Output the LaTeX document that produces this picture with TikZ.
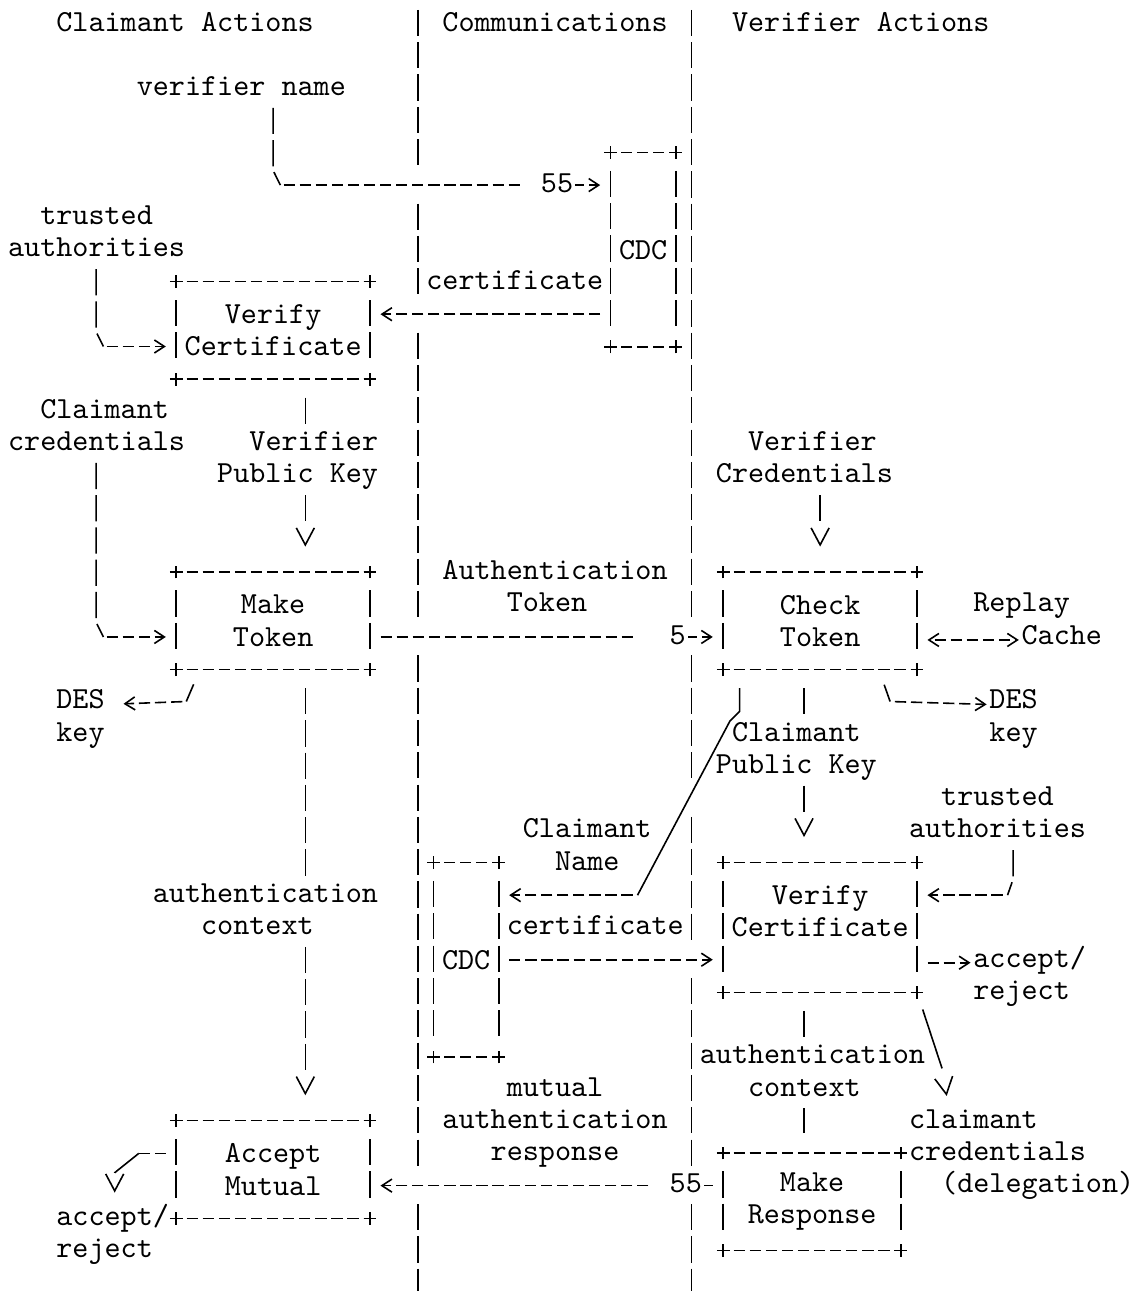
\documentclass[tikz,border=0pt]{standalone}
\usepackage{fontspec}
\newfontfamily\asciifont{lmmono10-regular.otf}
\usetikzlibrary{arrows.meta}

\begin{document}
\begin{tikzpicture}[x=8.045pt,y=16.14pt]
  \tikzset{box node/.style 2 args={rectangle, inner sep=0pt, align=center,
		minimum width=#1*8.045pt, minimum height=#2*16.14pt,
		font=\asciifont\fontsize{15.32pt}{16.14pt}\selectfont}, }
\tikzset{text node/.style={inner sep=0pt, anchor=mid west, yshift=-1.5pt,
		text height=9.4pt, text depth=0pt,
		font=\asciifont\fontsize{15.32pt}{16.14pt}\selectfont}, }
\tikzset{tag node/.style={text node, fill=white, inner xsep=1pt}, }
\tikzset{wire/.style={line width=0.8pt}, }
\tikzset{bar wire/.style={wire, dash pattern=on 13.1pt off 3.04pt}, }
\tikzset{dash wire/.style={wire, dash pattern=on 5.63pt off 2.41pt,
		dash phase=5.63pt, shorten <=2.82pt}, }
\tikzset{gt end/.style={-{Straight Barb[length=5pt,width=6.5pt]}, shorten >=5.2pt}, }
\tikzset{lt gt/.style={{Straight Barb[length=5pt,width=6.5pt]}-{Straight Barb[length=5pt,width=6.5pt]}}, }
\tikzset{v end/.style={-{Straight Barb[length=8.5pt,width=9pt]}}, }
\useasboundingbox (-0.979,0.735) rectangle (70.06,-39.265);
    \node[text node] (hdrC) at (2.5,0) {Claimant Actions};
    \node[text node] (hdrM) at (26.5,0) {Communications};
    \node[text node] (hdrV) at (44.5,0) {Verifier Actions};
%
\foreach \a/\b in {0/4,6/8,10/18,20/35,37/39}
  \draw[bar wire] ([yshift=6.9pt]25,-\a) -- ([yshift=-6.2pt]25,-\b);
\foreach \a/\b in {0/18,20/23,25/28,30/35,37/39}
  \draw[bar wire] ([yshift=6.9pt]42,-\a) -- ([yshift=-6.2pt]42,-\b);
%
    \node[box node={12}{3}] (vc1) at (16,-9.5) {Verify\\Certificate};
    \node[box node={4}{6}] (cdc1) at (39,-7) {CDC};
    \node[box node={12}{3}] (mt) at (16,-18.5) {Make\\Token};
    \node[box node={12}{3}] (ct) at (50,-18.5) {Check\\Token};
    \node[box node={4}{6}] (cdc2) at (28,-29) {CDC};
    \node[box node={12}{4}] (vc2) at (50,-28) {Verify\\Certificate\\~};
    \node[box node={12}{3}] (am) at (16,-35.5) {Accept\\Mutual};
    \node[box node={11}{3}] (mr) at (49.5,-36.5) {Make\\Response};
\foreach \b in {vc1,cdc1,mt,ct,cdc2,vc2,am,mr} {
  \draw[wire, dash pattern=on 5.63pt off 2.41pt, dash phase=2.82pt]
    (\b.north west) -- (\b.north east) (\b.south west) -- (\b.south east);
  \draw[bar wire] ([yshift=-9.24pt]\b.north west) -- ([yshift=9.94pt]\b.south west)
    ([yshift=-9.24pt]\b.north east) -- ([yshift=9.94pt]\b.south east);
  \foreach \c in {north west,north east,south west,south east}
    \draw[wire] (\b.\c) +(-3.2pt,0) -- +(3.2pt,0) +(0,-3.2pt) -- +(0,3.2pt);
}
%
    \node[text node] (vname) at (7.5,-2) {verifier name};
    \node[text node] (trA1) at (1.5,-6) {trusted};
    \node[text node] (trA2) at (-0.5,-7) {authorities};
    \node[text node] (cert1) at (25.5,-8) {certificate};
    \node[text node] (clc1) at (1.5,-12) {Claimant};
    \node[text node] (clc2) at (-0.5,-13) {credentials};
    \node[text node] (vpk1) at (14.5,-13) {Verifier};
    \node[text node] (vpk2) at (12.5,-14) {Public Key};
    \node[text node] (vcr1) at (45.5,-13) {Verifier};
    \node[text node] (vcr2) at (43.5,-14) {Credentials};
    \node[text node] (at1) at (26.5,-17) {Authentication};
    \node[text node] (at2) at (30.5,-18) {Token};
    \node[text node] (replay) at (59.5,-18) {Replay};
    \node[text node] (cache) at (62.5,-19) {Cache};
    \node[text node] (desL1) at (2.5,-21) {DES};
    \node[text node] (desL2) at (2.5,-22) {key};
    \node[text node] (desR1) at (60.5,-21) {DES};
    \node[text node] (desR2) at (60.5,-22) {key};
    \node[text node] (cpk1) at (44.5,-22) {Claimant};
    \node[text node] (cpk2) at (43.5,-23) {Public Key};
    \node[text node] (trB1) at (57.5,-24) {trusted};
    \node[text node] (trB2) at (55.5,-25) {authorities};
    \node[text node] (cn1) at (31.5,-25) {Claimant};
    \node[text node] (cn2) at (33.5,-26) {Name};
    \node[text node] (acL1) at (8.5,-27) {authentication};
    \node[text node] (acL2) at (11.5,-28) {context};
    \node[text node] (cert2) at (30.5,-28) {certificate};
    \node[text node] (arR1) at (59.5,-29) {accept/};
    \node[text node] (arR2) at (59.5,-30) {reject};
    \node[text node] (acR1) at (42.5,-32) {authentication};
    \node[text node] (acR2) at (45.5,-33) {context};
    \node[text node] (mar1) at (30.5,-33) {mutual};
    \node[text node] (mar2) at (26.5,-34) {authentication};
    \node[text node] (mar3) at (29.5,-35) {response};
    \node[text node] (ccr1) at (55.5,-34) {claimant};
    \node[text node] (ccr2) at (55.5,-35) {credentials};
    \node[text node] (ccr3) at (57.5,-36) {(delegation)};
    \node[text node] (arL1) at (2.5,-37) {accept/};
    \node[text node] (arL2) at (2.5,-38) {reject};
%
\coordinate (k1) at (16.45,-5);
\draw[bar wire, shorten <=5.9pt] (vname.south -| 16,0) -- (16,-4.55) -- (k1);
\draw[dash wire, gt end, shorten <=0pt, dash phase=6.44pt] (k1) -- (cdc1.west |- k1);
\draw[dash wire, gt end] (cdc1.west |- 0,-9) -- (vc1.east |- 0,-9);
\coordinate (k2) at (5.45,-10);
\draw[bar wire, shorten <=5.9pt] (trA2.south -| 5,0) -- (5,-9.55) -- (k2);
\draw[dash wire, gt end, shorten <=0pt, dash phase=6.44pt] (k2) -- (vc1.west |- k2);
\draw[bar wire, shorten <=9.24pt, shorten >=3.8pt] (vc1.south -| 18,0) -- (vpk1.north -| 18,0);
\draw[wire, v end, dash pattern=on 13.1pt off 40pt, shorten <=5.9pt, shorten >=12.7pt] (vpk2.south -| 18,0) -- (mt.north -| 18,0);
\coordinate (k3) at (5.45,-19);
\draw[bar wire, shorten <=5.9pt] (clc2.south -| 5,0) -- (5,-18.55) -- (k3);
\draw[dash wire, gt end, shorten <=0pt, dash phase=6.44pt] (k3) -- (mt.west |- k3);
\draw[dash wire, gt end] (mt.east |- 0,-19) -- (ct.west |- 0,-19);
\draw[wire, v end, dash pattern=on 13.1pt off 40pt, shorten <=5.9pt, shorten >=12.7pt] (vcr2.south -| 50,0) -- (ct.north -| 50,0);
\draw[dash wire, lt gt, shorten <=5.2pt, shorten >=1.2pt] (ct.east |- cache.mid west) -- (cache.mid west);
%
\coordinate (k4) at (10.6,-21);
\draw[wire, shorten <=8pt] (mt.south -| 11.45,0) -- (k4);
\draw[dash wire, gt end, shorten <=0pt, dash phase=6.04pt, shorten >=9.25pt] (k4) -- (desL1.mid east);
\coordinate (k5) at (54.35,-21);
\draw[wire, shorten <=8pt] (ct.south -| 53.65,0) -- (k5);
\draw[dash wire, gt end, shorten <=0pt, shorten >=1.2pt] (k5) -- (desR1.mid west);
\draw[bar wire, shorten <=9.24pt, shorten >=3.8pt] (ct.south -| 49,0) -- (cpk1.north -| 49,0);
\draw[wire, v end, dash pattern=on 13.1pt off 40pt, shorten <=5.9pt, shorten >=12.7pt] (cpk2.south -| 49,0) -- (vc2.north -| 49,0);
\coordinate (k6) at (38.65,-27);
\draw[wire, shorten <=9.24pt] (ct.south -| 45,0) -- (45,-21.3) -- (44.4,-21.6) -- (k6);
\draw[dash wire, gt end, shorten <=0pt] (k6) -- (cdc2.east |- k6);
\coordinate (k7) at (61.65,-27);
\draw[bar wire, shorten <=5.9pt] (trB2.south -| 62,0) -- (62,-26.5) -- (k7);
\draw[dash wire, gt end, shorten <=0pt] (k7) -- (vc2.east |- k7);
\draw[dash wire, gt end] (cdc2.east |- 0,-29) -- (vc2.west |- 0,-29);
\draw[dash wire, gt end, shorten >=1.2pt] (vc2.east |- arR1.mid west) -- (arR1.mid west);
\draw[bar wire, shorten <=9.24pt, shorten >=3.8pt] (vc2.south -| 49,0) -- (acR1.north -| 49,0);
\draw[bar wire, shorten <=5.9pt, shorten >=9.94pt] (acR2.south -| 49,0) -- (mr.north -| 49,0);
\draw[wire, v end, dash pattern=on 31pt off 40pt, shorten <=9pt, shorten >=6.7pt] (vc2.south east) -- (57.6,-32.4) -- (ccr1.north -| 58,0);
%
\draw[bar wire, shorten <=9.24pt, shorten >=3.8pt] (mt.south -| 18,0) -- (acL1.north -| 18,0);
\draw[wire, v end, dash pattern=on 13.1pt off 3.04pt on 13.1pt off 3.04pt on 13.1pt off 3.04pt on 13.1pt off 40pt,
  shorten <=5.9pt, shorten >=12.7pt] (acL2.south -| 18,0) -- (am.north -| 18,0);
\draw[dash wire, gt end] (mr.west |- 0,-36) -- (am.east |- 0,-36);
\coordinate (k8) at (7.65,-35);
\draw[dash wire] (am.west |- k8) -- (k8);
\draw[wire, v end, dash pattern=on 15.5pt off 30pt, shorten >=6.7pt] (k8) -- (6.15,-35.6) -- (arL1.north -| 6.15,0);
%
    \node[tag node] (n55a) at (31.5,-5) {~55};
    \node[tag node] (n5) at (38.5,-19) {~~5};
    \node[tag node] (n55b) at (39.5,-36) {~55};
\end{tikzpicture}
\end{document}
